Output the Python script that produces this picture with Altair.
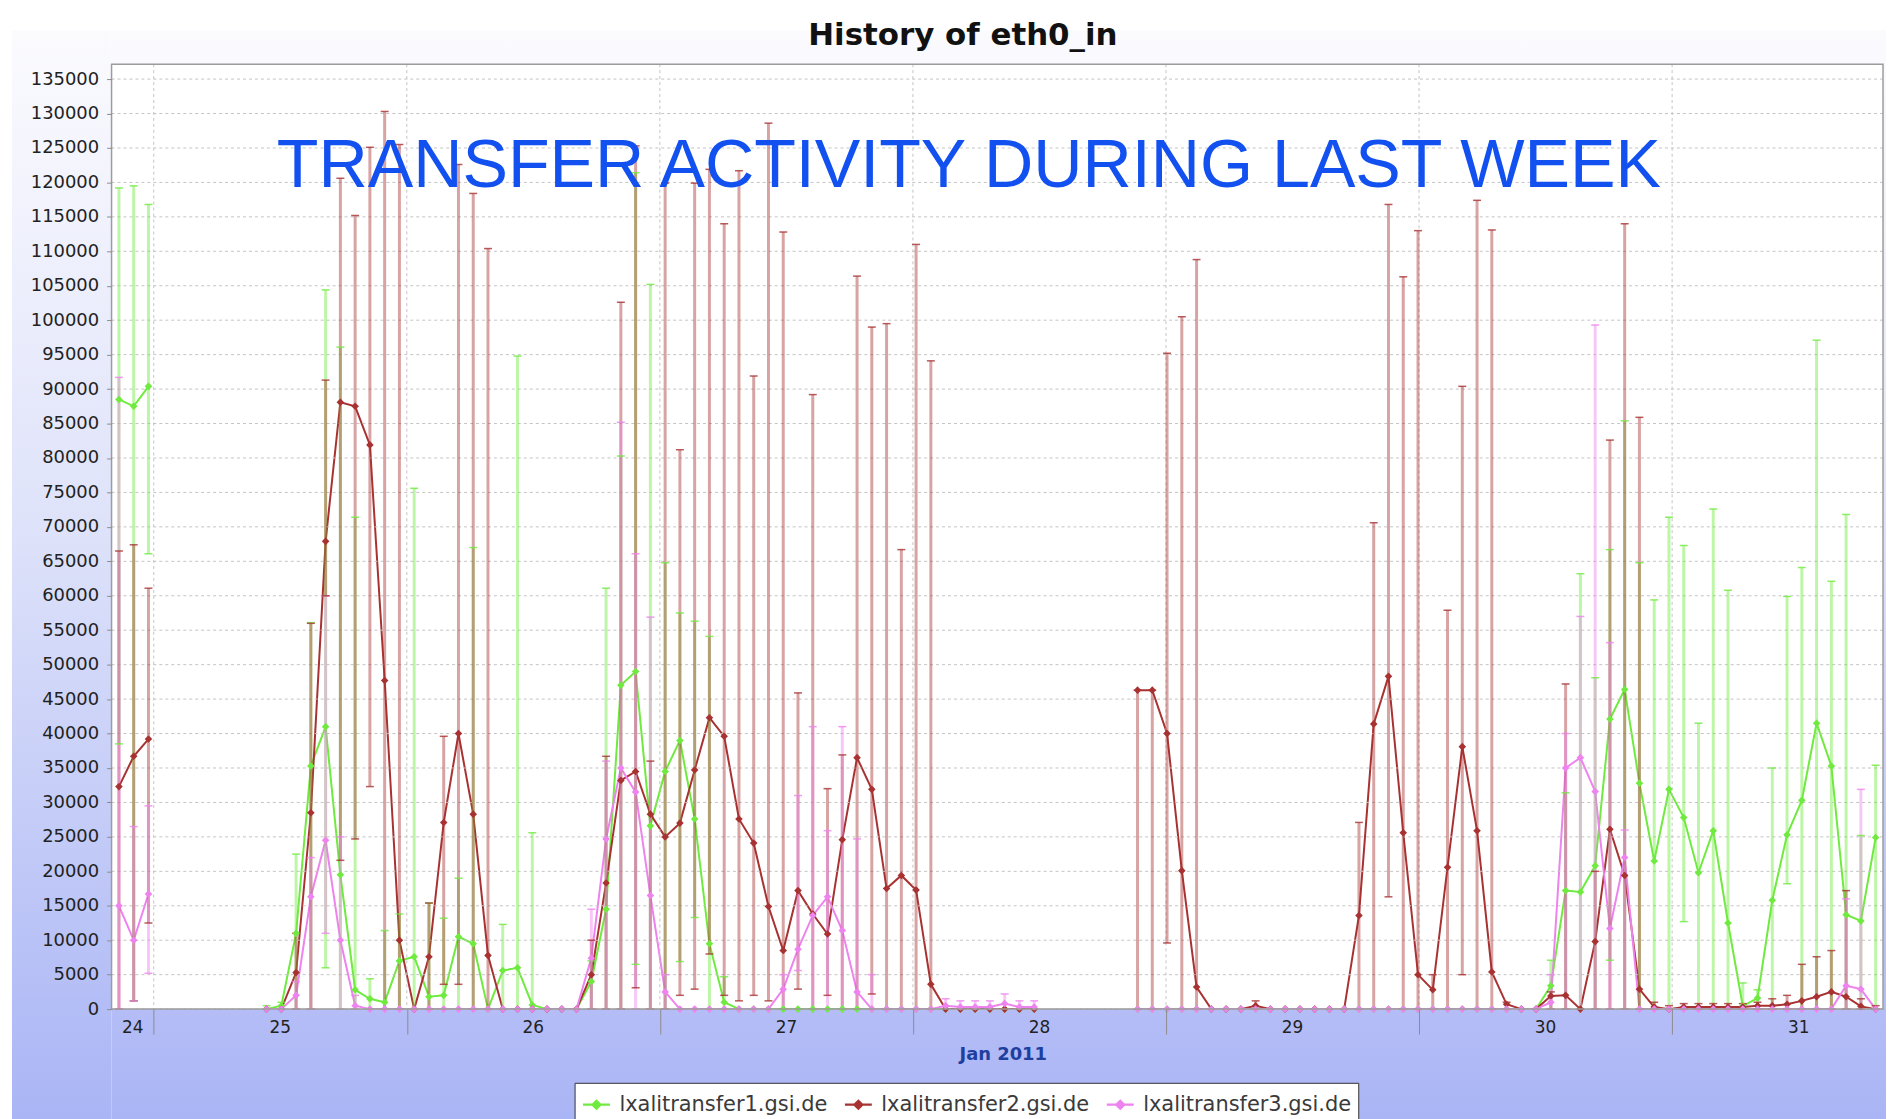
import altair as alt
import pandas as pd

N = None

# ---------------- data ----------------
series_names = ["lxalitransfer1.gsi.de", "lxalitransfer2.gsi.de", "lxalitransfer3.gsi.de"]
series_colors = ["#6fea3e", "#a83232", "#ee82ee"]

# 120 bins of 1.4 h covering one week starting Jan 24 20:00 (hours since that moment)
BIN_FIRST_CENTRE = 0.7
BIN_HOURS = 1.4

green_mean = [
    88500, 87500, 90400, N, N, N, N, N, N, N,
    0, 500, 11000, 35300, 41000, 19500, 2800, 1500, 1000, 7000,
    7600, 1800, 2000, 10500, 9500, 0, 5600, 6000, 600, 0,
    0, 0, 4000, 14500, 47000, 49000, 26600, 34500, 39000, 27600,
    9500, 1000, 0, 0, 0, 0, 0, 0, 0, 0,
    0, 0, 0, 0, 0, 0, 0, 0, 0, 0,
    0, 0, 0, N, N, N, N, N, N, 0,
    0, 0, 0, 0, 0, 0, 0, 0, 0, 0,
    0, 0, 0, 0, 0, 0, 0, 0, 0, 0,
    0, 0, 0, 0, 0, 0, 0, 3400, 17200, 17000,
    20800, 42100, 46400, 32800, 21500, 31900, 27800, 19800, 25900, 12500,
    450, 1600, 15800, 25300, 30300, 41500, 35300, 13700, 12800, 24900,
]
green_high = [
    119200, 119500, 116800, N, N, N, N, N, N, N,
    500, 1000, 22500, 56100, 104400, 96100, 71400, 4400, 11400, 13800,
    75600, 15400, 13200, 19000, 67000, 0, 12300, 94800, 25600, 0,
    0, 0, 7000, 61100, 80300, 121400, 105200, 64800, 57500, 56300,
    54100, 4700, 0, 0, 0, 0, 0, 0, 0, 0,
    0, 0, 0, 0, 0, 0, 0, 0, 0, 0,
    0, 0, 0, N, N, N, N, N, N, 0,
    0, 0, 0, 0, 0, 0, 0, 0, 0, 0,
    0, 0, 0, 0, 0, 0, 0, 0, 0, 0,
    0, 0, 0, 0, 0, 0, 0, 7100, 31400, 63200,
    48100, 66700, 85400, 64800, 59400, 71400, 67300, 41500, 72600, 60800,
    3800, 2800, 35000, 59900, 64100, 97100, 62100, 71800, 25200, 35400,
]
green_low = {0: 38500, 1: 1200, 2: 66100, 14: 6000, 35: 6500, 38: 6900, 39: 13300,
             101: 7100, 106: 12700, 113: 18200}

brown_mean = [
    32300, 36700, 39200, N, N, N, N, N, N, N,
    0, 0, 5300, 28500, 67900, 88100, 87500, 81900, 47700, 10000,
    0, 7600, 27100, 40000, 28300, 7800, 0, 0, 0, 0,
    0, 0, 5000, 18300, 33200, 34500, 28300, 25000, 27000, 34700,
    42300, 39600, 27600, 24100, 14900, 8500, 17200, 13800, 10900, 24600,
    36500, 31900, 17500, 19400, 17300, 3600, 0, 0, 0, 0,
    0, 0, 0, N, N, N, N, N, N, 46300,
    46300, 40000, 20100, 3200, 0, 0, 0, 500, 0, 0,
    0, 0, 0, 0, 13600, 41400, 48300, 25600, 5000, 2800,
    20600, 38100, 25900, 5400, 700, 0, 0, 1900, 2000, 0,
    9800, 26100, 19400, 2900, 300, 0, 300, 300, 300, 300,
    300, 500, 500, 700, 1200, 1800, 2500, 1800, 400, 0,
]
brown_high = [
    66500, 67400, 61100, N, N, N, N, N, N, N,
    0, 0, 11000, 56000, 91300, 120600, 115200, 125100, 130300, 125500,
    0, 15400, 39600, 122600, 118400, 110400, 0, 0, 0, 0,
    0, 0, 10000, 36700, 102600, 125300, 36000, 119900, 81200, 119900,
    121900, 114000, 121700, 91900, 128600, 112800, 45900, 89200, 32000, 36900,
    106400, 99000, 99500, 66700, 111000, 94100, 0, 0, 0, 0,
    0, 0, 0, N, N, N, N, N, N, 46300,
    46300, 95200, 100500, 108800, 0, 0, 0, 1200, 0, 0,
    0, 0, 0, 0, 27100, 70600, 116800, 106300, 113000, 5000,
    57900, 90400, 117400, 113100, 1000, 0, 0, 2500, 47200, 0,
    20000, 82600, 114000, 85900, 1000, 500, 800, 800, 800, 800,
    800, 1000, 1500, 2000, 6500, 7600, 8500, 17200, 1500, 500,
]
brown_low = {1: 1200, 2: 12500, 14: 60000, 15: 21600, 16: 24700, 17: 32300, 22: 3600,
             23: 3600, 35: 3100, 38: 2000, 39: 2900, 40: 8000, 41: 2000, 42: 1200,
             43: 2000, 44: 1200, 46: 2900, 48: 2000, 51: 2200, 71: 9600, 86: 16300,
             91: 5000}

pink_mean = [
    15000, 10000, 16700, N, N, N, N, N, N, N,
    0, 0, 2000, 16300, 24500, 10000, 500, 0, 0, 0,
    0, 0, 0, 0, 0, 0, 0, 0, 0, 0,
    0, 0, 7400, 24700, 35000, 31500, 16500, 2500, 0, 0,
    0, 0, 0, 0, 0, 2900, 8700, 13600, 16300, 11400,
    2500, 0, 0, 0, 0, 0, 500, 300, 300, 300,
    800, 300, 300, N, N, N, N, N, N, 0,
    0, 0, 0, 0, 0, 0, 0, 0, 0, 0,
    0, 0, 0, 0, 0, 0, 0, 0, 0, 0,
    0, 0, 0, 0, 0, 0, 0, 1000, 35000, 36500,
    31600, 11700, 22000, 0, 0, 0, 0, 0, 0, 0,
    0, 0, 0, 0, 0, 0, 0, 3400, 2900, 0,
]
pink_high = [
    91700, 26500, 29500, N, N, N, N, N, N, N,
    0, 0, 4000, 22000, 60000, 25000, 2000, 0, 0, 0,
    0, 0, 0, 0, 0, 0, 0, 0, 0, 0,
    0, 0, 14500, 36000, 85200, 66100, 56900, 5000, 0, 0,
    0, 0, 0, 0, 0, 5000, 31000, 41000, 25900, 41000,
    24700, 5000, 0, 0, 0, 0, 1500, 1200, 1200, 1200,
    2200, 1200, 1200, N, N, N, N, N, N, 0,
    0, 0, 0, 0, 0, 0, 0, 0, 0, 0,
    0, 0, 0, 0, 0, 0, 0, 0, 0, 0,
    0, 0, 0, 0, 0, 0, 0, 5000, 40000, 57000,
    99300, 53200, 26000, 0, 0, 0, 0, 0, 0, 0,
    0, 0, 0, 0, 0, 0, 0, 16000, 31900, 0,
]
pink_low = {1: 1200, 2: 5200, 14: 11000, 46: 5600}

y_ticks = list(range(0, 135001, 5000))
day_tick_hours = [4, 28, 52, 76, 100, 124, 148]          # midnights Jan 25 ... Jan 31
day_labels = ["24", "25", "26", "27", "28", "29", "30", "31"]
day_label_hours = [2, 16, 40, 64, 88, 112, 136, 160]

TITLE = "History of eth0_in"
OVERLAY = "TRANSFER ACTIVITY DURING LAST WEEK"
X_TITLE = "Jan 2011"

# ---------------- build tables ----------------
rows = []
for name, means, highs, lows in zip(series_names,
                                    [green_mean, brown_mean, pink_mean],
                                    [green_high, brown_high, pink_high],
                                    [green_low, brown_low, pink_low]):
    seg = 0
    gap = True
    for k, m in enumerate(means):
        if m is None:
            gap = True
            continue
        if gap:
            seg += 1
            gap = False
        rows.append({"series": name, "h": BIN_FIRST_CENTRE + BIN_HOURS * k,
                     "mean": m, "lo": lows.get(k, 0), "hi": highs[k], "seg": seg})
df = pd.DataFrame(rows)
bars = df[df["hi"] > df["lo"]].copy()
caps = pd.concat([
    bars.assign(v=bars["hi"]),
    bars.assign(v=bars["lo"]),
])[["series", "h", "v"]]

# ---------------- layout ----------------
W, H = 1779, 949
Y_MAX = 135000 * H / (H - 15)
FONT = "DejaVu Sans"

# chart background gradient (pixel rows relative to the plot's top edge)
BG_TOP, BG_BOTTOM = -34, 1057
BG_STOPS = [(0.0, (251, 251, 254)), (0.45, (223, 227, 250)), (1.0, (170, 181, 245))]


def bg_color(t):
    t = min(max(t, 0.0), 1.0)
    for (o0, c0), (o1, c1) in zip(BG_STOPS[:-1], BG_STOPS[1:]):
        if t <= o1:
            f = (t - o0) / (o1 - o0)
            return "#%02x%02x%02x" % tuple(round(a + (b - a) * f) for a, b in zip(c0, c1))
    return "#%02x%02x%02x" % BG_STOPS[-1][1]


def local_gradient(y0, y1):
    span = BG_BOTTOM - BG_TOP
    t0, t1 = (y0 - BG_TOP) / span, (y1 - BG_TOP) / span
    offs = [0.0] + [(o - t0) / (t1 - t0) for o, _ in BG_STOPS if t0 < o < t1] + [1.0]
    return {"gradient": "linear", "x1": 0, "x2": 0, "y1": 0, "y2": 1,
            "stops": [{"offset": o, "color": bg_color(t0 + o * (t1 - t0))} for o in offs]}


xs = alt.Scale(domain=[0, 168], nice=False, zero=False)
ys = alt.Scale(domain=[0, Y_MAX], nice=False, zero=True)
cs = alt.Scale(domain=series_names, range=series_colors)

# one shared axis definition per channel (identical in every layer so they merge)
x_axis = alt.Axis(
    values=day_tick_hours, labels=False, tickSize=25, tickColor="#8c8c8c", tickWidth=1,
    domain=False, grid=False, title=X_TITLE, titleFont=FONT, titleFontSize=18,
    titleFontWeight="bold", titleColor="#1f3f9f", titleX=895, titleY=46,
    titleBaseline="middle", zindex=2)
y_axis = alt.Axis(
    values=y_ticks, format="d", labelFont=FONT, labelFontSize=18, labelColor="#222222",
    tickSize=5, tickColor="#8c8c8c", labelPadding=8, domain=False, grid=False,
    title=None, labelOverlap=False, zindex=2)

one = alt.Data(values=[{"a": 1}])


def strip(x0, x1, y0, y1):
    return alt.Chart(one).mark_rect(fill=local_gradient(y0, y1)).encode(
        x=alt.value(x0), x2=alt.value(x1), y=alt.value(y0), y2=alt.value(y1))


bg_left = strip(-100, 0, BG_TOP, H + 120)
bg_top = strip(0, W + 20, BG_TOP, 0)
bg_bottom = strip(0, W + 20, H, H + 120)
bg_right = strip(W, W + 20, 0, H)

ygrid = alt.Chart(pd.DataFrame({"v": y_ticks})).mark_rule(
    color="#c4c4c4", strokeDash=[3, 3], strokeWidth=1).encode(
    y=alt.Y("v:Q", scale=ys, axis=y_axis))
xgrid = alt.Chart(pd.DataFrame({"h": day_tick_hours})).mark_rule(
    color="#c4c4c4", strokeDash=[3, 3], strokeWidth=1).encode(
    x=alt.X("h:Q", scale=xs, axis=x_axis))

bar_layer = alt.Chart(bars).mark_rule(strokeWidth=3, opacity=0.45).encode(
    x=alt.X("h:Q", scale=xs, axis=x_axis),
    y=alt.Y("lo:Q", scale=ys, axis=y_axis),
    y2="hi:Q",
    color=alt.Color("series:N", scale=cs, legend=None))

cap_layer = alt.Chart(caps).mark_tick(orient="horizontal", size=8, thickness=1.5, opacity=0.8).encode(
    x=alt.X("h:Q", scale=xs, axis=x_axis),
    y=alt.Y("v:Q", scale=ys, axis=y_axis),
    color=alt.Color("series:N", scale=cs, legend=None))

legend = alt.Legend(
    title=None, orient="none", legendX=465, legendY=1023, direction="horizontal", columns=3,
    symbolType="M-1,0L1,0M0,-0.3L0.3,0L0,0.3L-0.3,0Z", symbolSize=729, symbolStrokeWidth=2.2,
    labelFont=FONT, labelFontSize=21, labelColor="#3a3a3a", labelOffset=8, columnPadding=13,
    padding=7, strokeColor="#333333", fillColor="white", labelLimit=400, zindex=3)

line_layer = alt.Chart(df).mark_line(strokeWidth=2).encode(
    x=alt.X("h:Q", scale=xs, axis=x_axis),
    y=alt.Y("mean:Q", scale=ys, axis=y_axis),
    color=alt.Color("series:N", scale=cs, legend=legend),
    detail="seg:N")

point_layer = alt.Chart(df).mark_point(filled=True, shape="diamond", size=58, opacity=1).encode(
    x=alt.X("h:Q", scale=xs, axis=x_axis),
    y=alt.Y("mean:Q", scale=ys, axis=y_axis),
    color=alt.Color("series:N", scale=cs, legend=None))

day_text = alt.Chart(pd.DataFrame({"h": day_label_hours, "t": day_labels})).mark_text(
    font=FONT, fontSize=17, color="#222222", baseline="middle", align="center").encode(
    x=alt.X("h:Q", scale=xs, axis=x_axis), y=alt.value(H + 19), text="t:N")

title_text = alt.Chart(one).mark_text(
    text=TITLE, font=FONT, fontSize=31, fontWeight="bold", color="#111111",
    align="center", baseline="middle").encode(x=alt.value(855), y=alt.value(-28))

overlay_text = alt.Chart(one).mark_text(
    text=OVERLAY, font="Liberation Sans", fontSize=68.5, color="#1250f0",
    align="center", baseline="alphabetic").encode(x=alt.value(861), y=alt.value(123))

frame = alt.Chart(one).mark_rect(fillOpacity=0, stroke="#9c9c9c", strokeWidth=1.5).encode(
    x=alt.value(0), x2=alt.value(W), y=alt.value(0), y2=alt.value(H))

chart = alt.layer(
    line_layer, bg_left, bg_top, bg_bottom, bg_right, ygrid, xgrid, bar_layer, cap_layer,
    point_layer, day_text, overlay_text, title_text, frame
).properties(
    width=W, height=H,
    padding={"left": 104, "top": 54, "right": 3, "bottom": 115},
    autosize=alt.AutoSizeParams(type="none"),
).configure(background="white").configure_view(fill="white", strokeWidth=0)

chart.save("out.html", embed_options={"renderer": "svg", "actions": False})
